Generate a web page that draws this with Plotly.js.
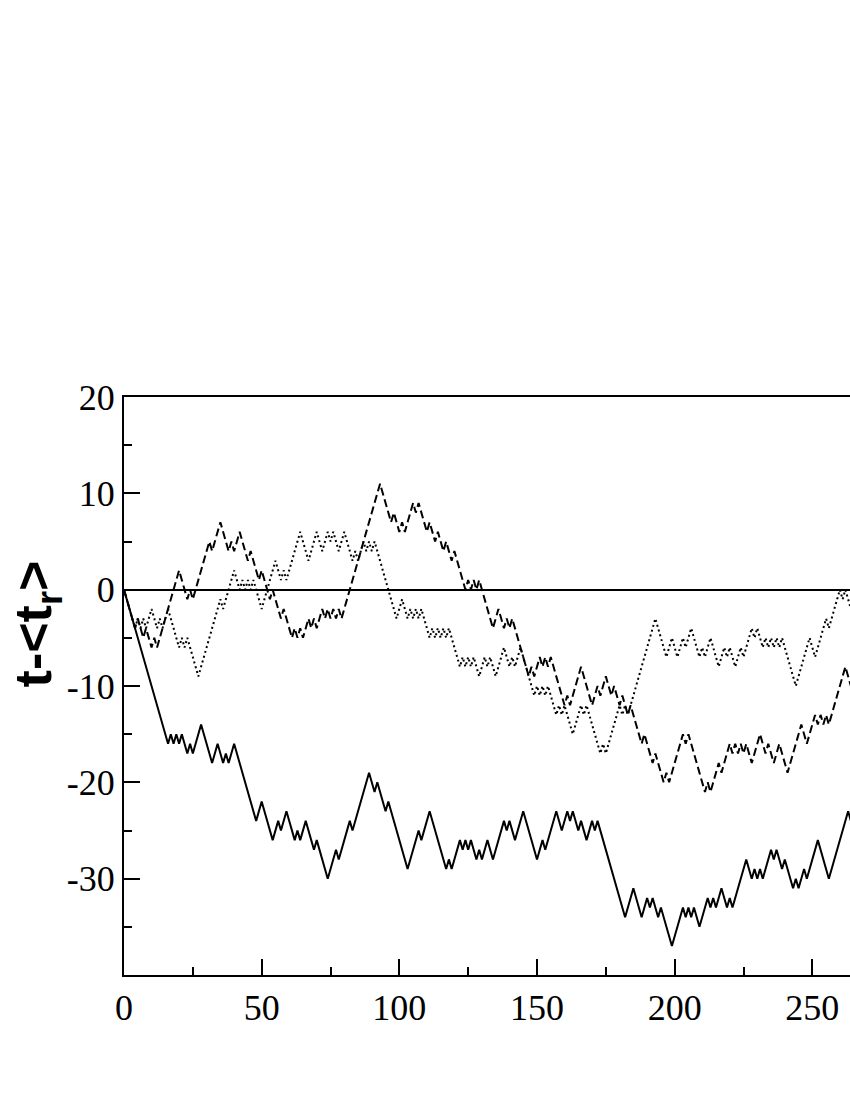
<!DOCTYPE html>
<html>
<head>
<meta charset="utf-8">
<script src="https://cdn.plot.ly/plotly-3.0.1.min.js"></script>
<style>
  html, body { margin: 0; padding: 0; background: #ffffff; overflow: hidden; }
  #chart { width: 1000px; height: 1100px; }
</style>
</head>
<body>
<div id="chart"></div>
<script>
// ---- data: turning points of the three walks (t, t-<t_r>) ----
const solidT = [
  0, 16, 17, 18, 19, 20, 21, 23, 24, 25,
  28, 32, 34, 36, 37, 38, 40, 48, 50, 54,
  56, 57, 59, 62, 63, 64, 66, 69, 70, 74,
  77, 78, 82, 83, 89, 91, 92, 95, 96, 103,
  107, 108, 111, 117, 118, 119, 122, 123, 124, 125,
  126, 128, 129, 130, 132, 134, 138, 139, 140, 142,
  145, 150, 152, 153, 157, 159, 161, 162, 163, 165,
  166, 168, 170, 171, 172, 182, 185, 188, 190, 191,
  192, 194, 195, 199, 203, 204, 205, 206, 207, 209,
  212, 213, 214, 215, 217, 219, 220, 221, 226, 228,
  229, 230, 231, 232, 235, 236, 237, 239, 240, 243,
  244, 245, 247, 248, 252, 256, 263, 265
];
const solidV = [
  0, -16, -15, -16, -15, -16, -15, -17, -16, -17,
  -14, -18, -16, -18, -17, -18, -16, -24, -22, -26,
  -24, -25, -23, -26, -25, -26, -24, -27, -26, -30,
  -27, -28, -24, -25, -19, -21, -20, -23, -22, -29,
  -25, -26, -23, -29, -28, -29, -26, -27, -26, -27,
  -26, -28, -27, -28, -26, -28, -24, -25, -24, -26,
  -23, -28, -26, -27, -23, -25, -23, -24, -23, -25,
  -24, -26, -24, -25, -24, -34, -31, -34, -32, -33,
  -32, -34, -33, -37, -33, -34, -33, -34, -33, -35,
  -32, -33, -32, -33, -31, -33, -32, -33, -28, -30,
  -29, -30, -29, -30, -27, -28, -27, -29, -28, -31,
  -30, -31, -29, -30, -26, -30, -23, -25
];

const dashedT = [
  0, 4, 5, 7, 8, 10, 11, 12, 20, 23,
  24, 25, 31, 32, 35, 38, 39, 40, 42, 45,
  46, 49, 50, 53, 54, 57, 58, 60, 61, 62,
  63, 64, 65, 66, 67, 68, 69, 70, 71, 72,
  73, 74, 75, 76, 77, 78, 79, 80, 93, 97,
  98, 100, 101, 102, 105, 106, 107, 110, 111, 113,
  114, 116, 117, 119, 120, 123, 124, 125, 126, 127,
  128, 129, 134, 136, 138, 139, 140, 141, 143, 147,
  148, 149, 151, 152, 153, 154, 155, 160, 161, 162,
  166, 170, 172, 173, 175, 177, 178, 180, 181, 183,
  184, 188, 189, 190, 192, 193, 196, 197, 198, 203,
  204, 205, 211, 212, 213, 216, 217, 220, 221, 222,
  223, 224, 225, 226, 228, 231, 233, 234, 236, 238,
  241, 246, 248, 251, 252, 253, 254, 255, 256, 262,
  264
];
const dashedV = [
  0, -4, -3, -5, -4, -6, -5, -6, 2, -1,
  0, -1, 5, 4, 7, 4, 5, 4, 6, 3,
  4, 1, 2, -1, 0, -3, -2, -4, -5, -4,
  -5, -4, -5, -4, -3, -4, -3, -4, -3, -2,
  -3, -2, -3, -2, -3, -2, -3, -2, 11, 7,
  8, 6, 7, 6, 9, 8, 9, 6, 7, 5,
  6, 4, 5, 3, 4, 1, 0, 1, 0, 1,
  0, 1, -4, -2, -4, -3, -4, -3, -5, -9,
  -8, -9, -7, -8, -7, -8, -7, -12, -11, -12,
  -8, -12, -10, -11, -9, -11, -10, -12, -11, -13,
  -12, -16, -15, -16, -18, -17, -20, -19, -20, -15,
  -16, -15, -21, -20, -21, -18, -19, -16, -17, -16,
  -17, -16, -17, -16, -18, -15, -17, -16, -18, -16,
  -19, -14, -16, -13, -14, -13, -14, -13, -14, -8,
  -10
];

const dottedT = [
  0, 3, 4, 5, 6, 7, 8, 10, 12, 13,
  14, 16, 20, 21, 22, 23, 27, 35, 36, 40,
  42, 43, 44, 45, 46, 47, 50, 55, 57, 58,
  59, 64, 67, 70, 72, 74, 75, 76, 78, 80,
  83, 84, 85, 87, 88, 89, 90, 91, 99, 101,
  103, 104, 105, 106, 107, 108, 110, 111, 112, 113,
  114, 115, 116, 117, 118, 119, 122, 123, 124, 125,
  126, 127, 129, 131, 132, 133, 135, 138, 140, 141,
  142, 144, 149, 150, 151, 152, 153, 154, 157, 158,
  159, 160, 163, 166, 167, 168, 173, 174, 175, 180,
  181, 182, 183, 185, 193, 197, 199, 201, 203, 204,
  206, 209, 210, 211, 213, 216, 218, 219, 220, 222,
  224, 225, 228, 229, 230, 231, 232, 233, 234, 235,
  236, 237, 238, 239, 244, 249, 251, 255, 256, 260,
  261, 262, 264, 265
];
const dottedV = [
  0, -3, -4, -3, -4, -3, -4, -2, -4, -3,
  -4, -2, -6, -5, -6, -5, -9, -1, -2, 2,
  0, 1, 0, 1, 0, 1, -2, 3, 1, 2,
  1, 6, 3, 6, 4, 6, 5, 6, 4, 6,
  3, 4, 3, 5, 4, 5, 4, 5, -3, -1,
  -3, -2, -3, -2, -3, -2, -4, -5, -4, -5,
  -4, -5, -4, -5, -4, -5, -8, -7, -8, -7,
  -8, -7, -9, -7, -8, -7, -9, -6, -8, -7,
  -8, -6, -11, -10, -11, -10, -11, -10, -13, -12,
  -13, -12, -15, -12, -13, -12, -17, -16, -17, -12,
  -13, -12, -13, -11, -3, -7, -5, -7, -5, -6,
  -4, -7, -6, -7, -5, -8, -6, -7, -6, -8,
  -6, -7, -4, -5, -4, -5, -6, -5, -6, -5,
  -6, -5, -6, -5, -10, -5, -7, -3, -4, 0,
  -1, 0, -2, -1
];

// ---- axis ticks ----
const xTickVals = [0, 50, 100, 150, 200, 250];
const xTickText = ['0', '50', '100', '150', '200', '250'];
const yTickVals = [-30, -20, -10, 0, 10, 20];
const yTickText = ['-30', '-20', '-10', '0', '10', '20'];
const yLabel = 't-&lt;t<sub>r</sub>&gt;';

const traces = [
  { x: solidT, y: solidV, type: 'scatter', mode: 'lines',
    line: { color: '#000000', width: 2, dash: 'solid' }, hoverinfo: 'skip' },
  { x: dashedT, y: dashedV, type: 'scatter', mode: 'lines',
    line: { color: '#000000', width: 2, dash: '8px,4px' }, hoverinfo: 'skip' },
  { x: dottedT, y: dottedV, type: 'scatter', mode: 'lines',
    line: { color: '#000000', width: 2, dash: '2px,3px' }, hoverinfo: 'skip' }
];

const tickFont = { family: 'Liberation Serif, Times New Roman, serif', size: 36, color: '#000000' };

const layout = {
  width: 1000,
  height: 1100,
  margin: { l: 124, r: 50, t: 397, b: 125, pad: 0 },
  paper_bgcolor: '#ffffff',
  plot_bgcolor: '#ffffff',
  showlegend: false,
  xaxis: {
    range: [0, 300],
    showline: true, linecolor: '#000000', linewidth: 2, mirror: true,
    showgrid: false, zeroline: false,
    tickmode: 'array', tickvals: xTickVals, ticktext: xTickText,
    ticks: 'inside', ticklen: 16, tickwidth: 2, tickcolor: '#000000',
    tickfont: tickFont,
    minor: { tickmode: 'linear', tick0: 0, dtick: 25, ticks: 'inside', ticklen: 8, tickwidth: 2, tickcolor: '#000000', showgrid: false }
  },
  yaxis: {
    range: [-40, 20],
    showline: true, linecolor: '#000000', linewidth: 2, mirror: true,
    showgrid: false,
    zeroline: true, zerolinecolor: '#000000', zerolinewidth: 2,
    tickmode: 'array', tickvals: yTickVals, ticktext: yTickText,
    ticks: 'inside', ticklen: 16, tickwidth: 2, tickcolor: '#000000',
    tickfont: tickFont,
    minor: { tickmode: 'linear', tick0: 0, dtick: 5, ticks: 'inside', ticklen: 8, tickwidth: 2, tickcolor: '#000000', showgrid: false }
  },
  annotations: [{
    text: '<b>' + yLabel + '</b>',
    xref: 'paper', yref: 'paper',
    x: -0.105, y: 0.607,
    xanchor: 'center', yanchor: 'middle',
    textangle: -90,
    showarrow: false,
    font: { family: 'Liberation Sans, Arial, sans-serif', size: 52, color: '#000000' }
  }]
};

Plotly.newPlot('chart', traces, layout, { staticPlot: true, displayModeBar: false });
</script>
</body>
</html>
